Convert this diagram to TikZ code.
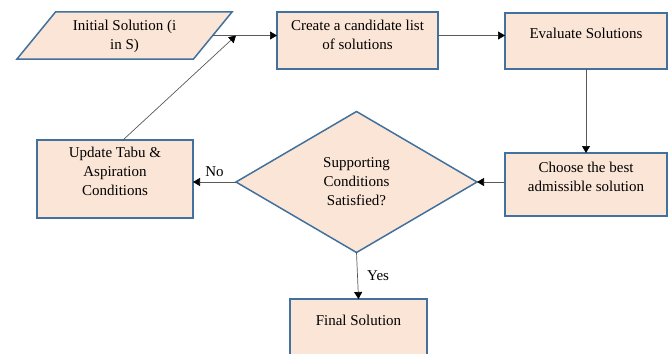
\documentclass[tikz,border=0pt]{standalone}
\usepackage{fontspec}
\setmainfont{Liberation Serif}
\usetikzlibrary{shapes.geometric,arrows.meta}
\definecolor{boxfill}{HTML}{FBE5D6}
\definecolor{boxline}{HTML}{41719C}
\newcommand{\uptext}[2]{\raisebox{#1}[\height][\depth]{\begin{tabular}{@{}c@{}}#2\end{tabular}}}

\begin{document}
\begin{tikzpicture}[x=1pt,y=-1pt,
  font=\fontsize{15}{19}\selectfont,
  box/.style={draw=boxline,fill=boxfill,line width=1.5pt,align=center,inner sep=2pt,outer sep=0pt},
  proc/.style={box,rectangle},
  link/.style={draw=black!65,line width=0.7pt,-{Triangle[length=7pt,width=8pt,black]}}]

  \useasboundingbox (0,0) rectangle (671,353);

  \node[box,trapezium,trapezium left angle=47.5,trapezium right angle=132.5,
        trapezium stretches body,minimum width=215pt,minimum height=47pt]
        (init) at (124.5,35.5) {\uptext{-1pt}{Initial Solution (i\\in S)}};
  \node[proc,minimum width=161pt,minimum height=57pt] (create) at (357.5,40.5) {\uptext{4pt}{Create a candidate list\\of solutions}};
  \node[proc,minimum width=162pt,minimum height=56pt] (eval) at (586,41) {\uptext{6pt}{Evaluate Solutions}};
  \node[proc,minimum width=162pt,minimum height=63pt] (choose) at (586,184.5) {\uptext{6pt}{Choose the best\\admissible solution}};
  \node[box,diamond,inner sep=0pt,minimum width=241pt,minimum height=141pt] (decide) at (356.5,182) {Supporting\\Conditions\\Satisfied?};
  \node[proc,minimum width=156pt,minimum height=78pt] (update) at (115,179) {\uptext{6pt}{Update Tabu \&\\Aspiration\\Conditions}};
  \node[proc,minimum width=137pt,minimum height=62pt] (final) at (358.5,330) {\uptext{8pt}{Final Solution}};

  \coordinate (join) at (236,35.5);

  \draw[link] (init.east) -- (init.east -| create.west);
  \draw[link] ([xshift=8pt]update.north) -- (join);
  \draw[link] (create.east |- init.east) -- (eval.west |- init.east);
  \draw[link] (eval.south) -- (choose.north);
  \draw[link] (choose.west |- decide.east) -- (decide.east);
  \draw[link] (decide.west) -- node[above=2pt]{No} (decide.west -| update.east);
  \draw[link] (decide.south) -- node[right=6pt]{Yes} (final.north);
\end{tikzpicture}
\end{document}
